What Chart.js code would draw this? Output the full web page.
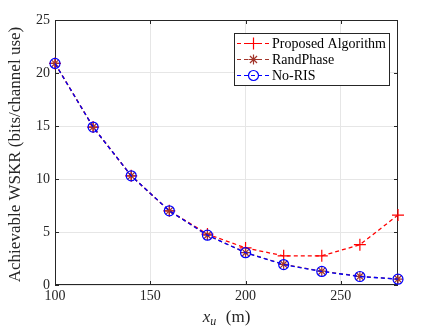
<!DOCTYPE html>
<html>
<head>
<meta charset="utf-8">
<script src="https://cdn.jsdelivr.net/npm/chart.js@4"></script>
<style>
  html, body { margin: 0; padding: 0; background: #fff; }
  #wrap { width: 440px; height: 330px; }
</style>
</head>
<body>
<div id="wrap"><canvas id="myChart" width="440" height="330"></canvas></div>
<script>
// data
const xu = [100, 120, 140, 160, 180, 200, 220, 240, 260, 280];
const proposed = [20.9, 14.9, 10.3, 7.0, 4.8, 3.5, 2.75, 2.75, 3.8, 6.6];
const randPhase = [20.9, 14.9, 10.3, 7.0, 4.7, 3.05, 1.95, 1.3, 0.82, 0.56];
const noRis = [20.9, 14.9, 10.3, 7.0, 4.7, 3.05, 1.93, 1.28, 0.8, 0.55];
const xTicks = [100, 150, 200, 250];
const yTicks = [0, 5, 10, 15, 20, 25];
const labels = ['Proposed Algorithm', 'RandPhase', 'No-RIS'];

const serif = '"Liberation Serif", "DejaVu Serif", serif';
const axisColor = '#262626';

const toPoints = (ys) => xu.map((x, i) => ({ x: x, y: ys[i] }));

const series = [
    { label: labels[0], data: toPoints(proposed), color: '#ff0000', style: 'cross', radius: 6, order: 3 },
    { label: labels[1], data: toPoints(randPhase), color: '#a2352a', style: 'star', radius: 5, order: 2 },
    { label: labels[2], data: toPoints(noRis), color: '#0000ff', style: 'circle', radius: 5, order: 1 }
];

// box, inner ticks, axis titles and the legend, drawn MATLAB-like
const extras = {
    id: 'extras',
    beforeDatasetsDraw(chart) {
        const ctx = chart.ctx;
        const a = chart.chartArea;
        const xs = chart.scales.x, ys = chart.scales.y;
        ctx.save();
        ctx.strokeStyle = axisColor;
        ctx.lineWidth = 1;
        ctx.strokeRect(a.left + 0.5, a.top + 0.5, a.right - a.left - 1, a.bottom - a.top - 1);
        ctx.beginPath();
        xTicks.forEach(v => {
            const p = Math.round(xs.getPixelForValue(v)) + 0.5;
            ctx.moveTo(p, a.bottom); ctx.lineTo(p, a.bottom - 4);
            ctx.moveTo(p, a.top); ctx.lineTo(p, a.top + 4);
        });
        yTicks.forEach(v => {
            const p = Math.round(ys.getPixelForValue(v)) + 0.5;
            ctx.moveTo(a.left, p); ctx.lineTo(a.left + 4, p);
            ctx.moveTo(a.right, p); ctx.lineTo(a.right - 4, p);
        });
        ctx.stroke();
        ctx.restore();
    },
    afterDraw(chart) {
        const ctx = chart.ctx;
        const a = chart.chartArea;
        ctx.save();

        // y title
        ctx.fillStyle = axisColor;
        ctx.font = '17px ' + serif;
        ctx.textAlign = 'center';
        ctx.textBaseline = 'middle';
        ctx.save();
        ctx.translate(16, (a.top + a.bottom) / 2 + 2);
        ctx.rotate(-Math.PI / 2);
        ctx.fillText('Achievable WSKR (bits/channel use)', 0, 0);
        ctx.restore();

        // x title: x_u (m)
        ctx.textAlign = 'left';
        ctx.textBaseline = 'alphabetic';
        const base = 322;
        ctx.font = 'italic 17px ' + serif;
        const wx = ctx.measureText('x').width;
        ctx.font = 'italic 12px ' + serif;
        const wu = ctx.measureText('u').width;
        ctx.font = '17px ' + serif;
        const wm = ctx.measureText('  (m)').width;
        let x0 = (a.left + a.right) / 2 - (wx + wu + 1 + wm) / 2;
        ctx.font = 'italic 17px ' + serif;
        ctx.fillText('x', x0, base);
        ctx.font = 'italic 12px ' + serif;
        ctx.fillText('u', x0 + wx, base + 3);
        ctx.font = '17px ' + serif;
        ctx.fillText('  (m)', x0 + wx + wu + 1, base);

        // legend
        const lx = 234, ly = 33, lw = 155, lh = 52;
        ctx.fillStyle = '#fff';
        ctx.fillRect(lx, ly, lw, lh);
        ctx.strokeStyle = axisColor;
        ctx.lineWidth = 1;
        ctx.strokeRect(lx + 0.5, ly + 0.5, lw, lh);
        series.forEach((s, i) => {
            const cy = ly + 10.5 + i * 16;
            ctx.strokeStyle = s.color;
            ctx.lineWidth = 1.2;
            ctx.setLineDash([4, 3]);
            ctx.beginPath();
            ctx.moveTo(lx + 3, cy); ctx.lineTo(lx + 36, cy);
            ctx.stroke();
            ctx.setLineDash([]);
            ctx.fillStyle = 'rgba(0,0,0,0)';
            Chart.helpers.drawPoint(ctx, {
                pointStyle: s.style, radius: s.radius, rotation: 0, borderWidth: 1.2
            }, lx + 19.5, cy);
            ctx.fillStyle = '#000';
            ctx.font = '14px ' + serif;
            ctx.textBaseline = 'middle';
            ctx.fillText(s.label, lx + 38, cy + 1);
        });
        ctx.restore();
    }
};

const ctx = document.getElementById('myChart').getContext('2d');
const myChart = new Chart(ctx, {
    type: 'line',
    data: {
        datasets: series.map(s => ({
            label: s.label,
            data: s.data,
            borderColor: s.color,
            backgroundColor: 'transparent',
            borderWidth: 1.3,
            borderDash: [4, 3],
            pointStyle: s.style,
            pointRadius: s.radius,
            pointBorderColor: s.color,
            pointBackgroundColor: 'transparent',
            pointBorderWidth: 1.2,
            order: s.order,
            clip: false,
            fill: false,
            tension: 0
        }))
    },
    options: {
        responsive: false,
        animation: false,
        layout: { padding: { left: 8, right: 42, top: 20, bottom: 0 } },
        plugins: { legend: { display: false }, tooltip: { enabled: false } },
        scales: {
            x: {
                type: 'linear',
                min: 100,
                max: 280,
                afterBuildTicks: (scale) => { scale.ticks = xTicks.map(v => ({ value: v })); },
                afterFit: (scale) => { scale.height = 45; },
                grid: { color: '#e6e6e6', drawTicks: false },
                border: { display: false },
                ticks: { color: axisColor, font: { family: serif, size: 14 }, padding: 3, maxRotation: 0 }
            },
            y: {
                min: 0,
                max: 25,
                afterBuildTicks: (scale) => { scale.ticks = yTicks.map(v => ({ value: v })); },
                afterFit: (scale) => { scale.width = 47; },
                grid: { color: '#e6e6e6', drawTicks: false },
                border: { display: false },
                ticks: { color: axisColor, font: { family: serif, size: 14 }, padding: 5 }
            }
        }
    },
    plugins: [extras]
});
</script>
</body>
</html>
